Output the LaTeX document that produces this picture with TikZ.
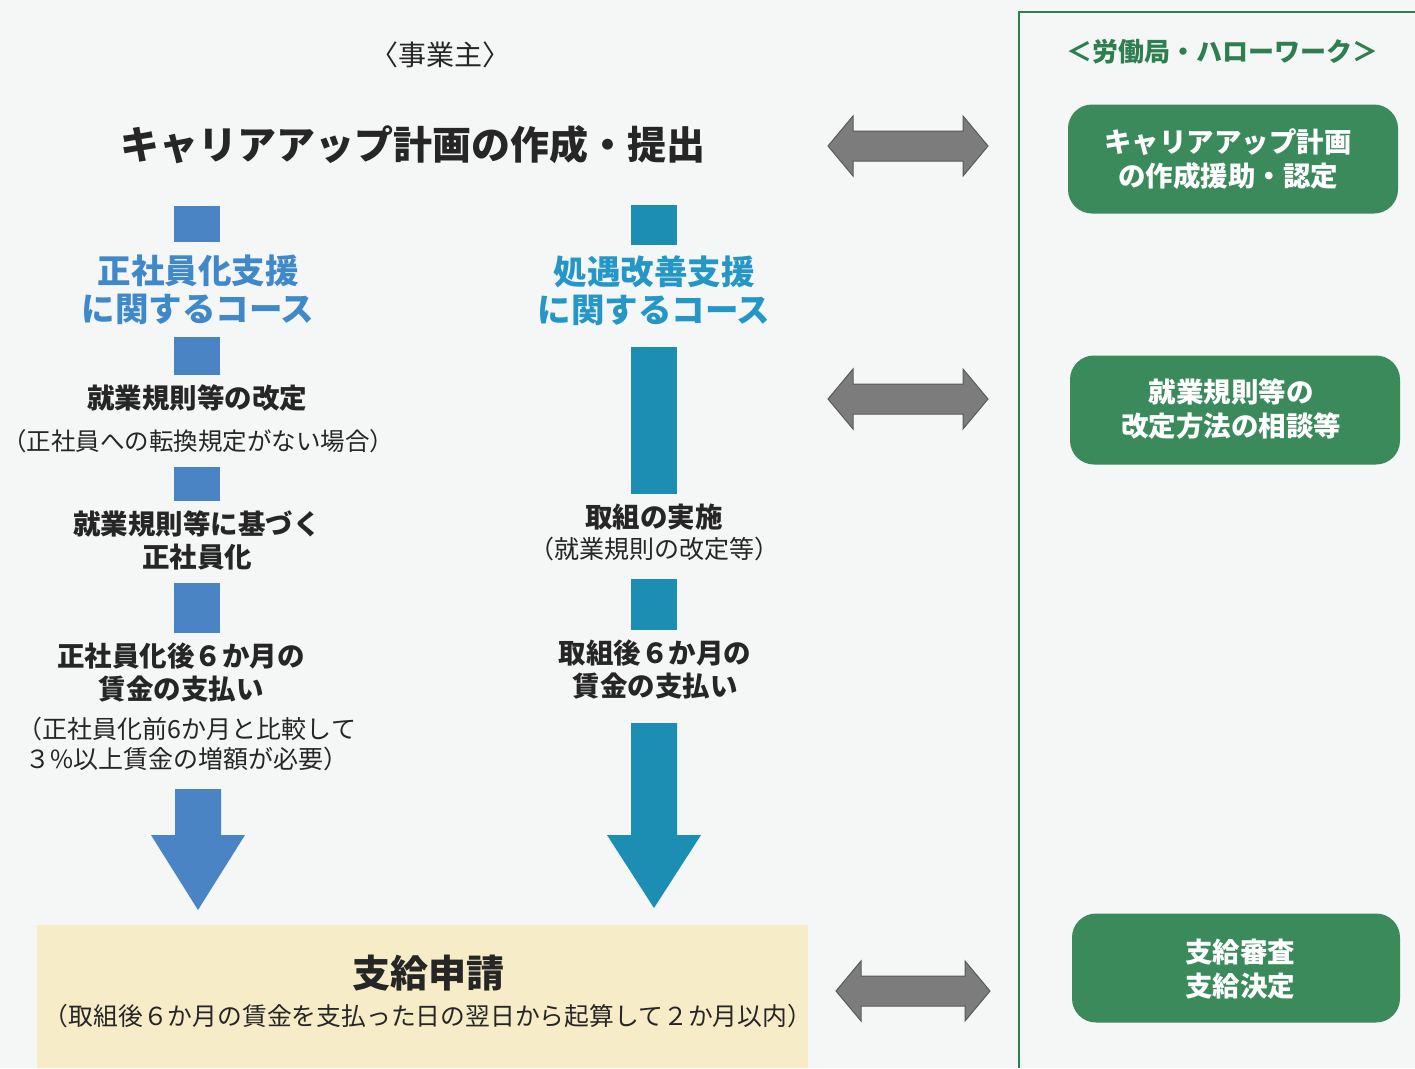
\documentclass[tikz,border=0pt]{standalone}
\usepackage{fontspec}
\setmainfont{Noto Sans CJK JP}
\definecolor{bg}{HTML}{F5F6F6}
\definecolor{ink}{HTML}{262626}
\definecolor{gline}{HTML}{2E7F50}
\definecolor{gbox}{HTML}{3A8A5C}
\definecolor{lblue}{HTML}{4A84C4}
\definecolor{lbluetxt}{HTML}{3F88CA}
\definecolor{teal}{HTML}{1C8EB4}
\definecolor{tealtxt}{HTML}{2497C6}
\definecolor{beige}{HTML}{F6EDC8}
\definecolor{agray}{HTML}{7C7C7C}
\definecolor{agrayd}{HTML}{5A5A5A}
\newcommand\fs[2]{\fontsize{#1}{#2}\selectfont}
\newcommand\dblarr[3]{%
  \draw[dblarrow] (#1-#3,#2) -- (#1-#3+25,#2-30) -- (#1-#3+25,#2-15) -- (#1+#3-25,#2-15)
    -- (#1+#3-25,#2-30) -- (#1+#3,#2) -- (#1+#3-25,#2+30) -- (#1+#3-25,#2+15)
    -- (#1-#3+25,#2+15) -- (#1-#3+25,#2+30) -- cycle;}
\begin{document}
\begin{tikzpicture}[x=1pt,y=-1pt,
  txt/.style={inner sep=0pt, align=center, text=ink},
  bstep/.style={txt, font=\bfseries\fs{27.5}{33}},
  note/.style={txt, font=\fs{25}{30}},
  course/.style={inner sep=0pt, align=center, font=\bfseries\fs{33.5}{38}},
  lseg/.style={fill=lblue, draw=none, inner sep=0pt, minimum width=46pt},
  tseg/.style={fill=teal, draw=none, inner sep=0pt, minimum width=46pt},
  gbx/.style={fill=gbox, draw=none, rounded corners=24pt, inner sep=0pt, minimum width=330pt, minimum height=109pt},
  gtxt/.style={inner sep=0pt, text=white, align=center, font=\bfseries\fs{27.5}{34}},
  dblarrow/.style={fill=agray, draw=agrayd, line width=1pt, line join=miter}]
\useasboundingbox (0,0) rectangle (1415,1068);
\fill[bg] (0,0) rectangle (1415,1068);

% right panel frame
\draw[gline, line width=2pt] (1019,1068) -- (1019,12) -- (1415,12);

% headers
\node[txt, font=\fs{28}{32}] (hdr) at (440,55) {〈事業主〉};
\node[inner sep=0pt, text=gline, font=\bfseries\fs{26}{30}] (hdr2) at (1222,52) {＜労働局・ハローワーク＞};

% title
\node[txt, font=\bfseries\fs{39}{44}] (title) at (413,145) {キャリアアップ計画の作成・提出};

% left column
\node[lseg, minimum height=36pt] (l1) at (197,224) {};
\node[course, text=lbluetxt] (lcourse) at (198,290) {正社員化支援\\に関するコース};
\node[lseg, minimum height=38pt] (l2) at (197,356) {};
\node[bstep] (lstep1) at (197,398) {就業規則等の改定};
\node[note, font=\fs{24.5}{30}] (lnote1) at (198,441) {（正社員への転換規定がない場合）};
\node[lseg, minimum height=34pt] (l3) at (197,484) {};
\node[bstep] (lstep2) at (197,540) {就業規則等に基づく\\正社員化};
\node[lseg, minimum height=50pt] (l4) at (197,608) {};
\node[bstep] (lstep3) at (181,673) {正社員化後６か月の\\賃金の支払い};
\node[note] (lnote3) at (187,744) {（正社員化前6か月と比較して\\３\%以上賃金の増額が必要）};
\fill[lblue] (175,789) -- (221,789) -- (221,835) -- (245,835) -- (198,910) -- (151,835) -- (175,835) -- cycle;

% middle column
\node[tseg, minimum height=40pt] (t1) at (654,225) {};
\node[course, text=tealtxt] (mcourse) at (654,291) {処遇改善支援\\に関するコース};
\node[tseg, minimum height=147pt] (t2) at (654,420.5) {};
\node[bstep] (mstep1) at (654,517) {取組の実施};
\node[note] (mnote1) at (654,549) {（就業規則の改定等）};
\node[tseg, minimum height=51pt] (t3) at (654,604.5) {};
\node[bstep] (mstep2) at (655,670) {取組後６か月の\\賃金の支払い};
\fill[teal] (631,723) -- (677,723) -- (677,835) -- (701,835) -- (654,908) -- (607,835) -- (631,835) -- cycle;

% application box
\fill[beige] (37,925) rectangle (808,1068);
\node[txt, font=\bfseries\fs{38}{44}] (apply) at (428,973) {支給申請};
\node[note, font=\fs{24.8}{30}] (applynote) at (428,1016) {（取組後６か月の賃金を支払った日の翌日から起算して２か月以内）};

% right boxes
\node[gbx] (g1) at (1233,159) {};
\node[gtxt] (g1t) at (1228,159) {キャリアアップ計画\\の作成援助・認定};
\node[gbx] (g2) at (1235,410) {};
\node[gtxt] (g2t) at (1231,409) {就業規則等の\\改定方法の相談等};
\node[gbx, minimum width=328pt] (g3) at (1236,968) {};
\node[gtxt] (g3t) at (1240,969) {支給審査\\支給決定};

% double arrows
\dblarr{908}{146}{80}
\dblarr{908}{399}{80}
\dblarr{913}{991}{77}
\end{tikzpicture}
\end{document}
